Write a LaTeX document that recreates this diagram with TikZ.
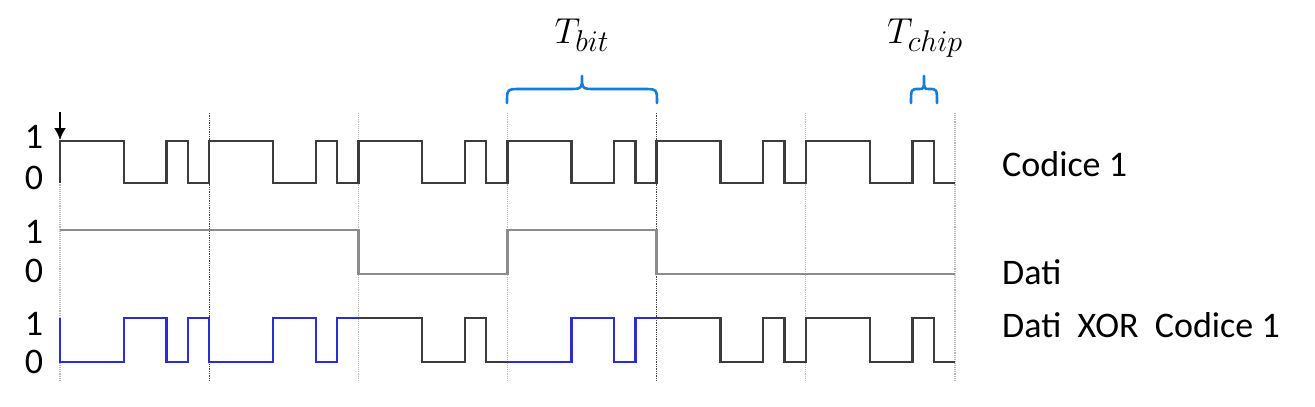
\documentclass[tikz,border=0pt]{standalone}
\usepackage{fontspec}
\setmainfont{Carlito}
\usetikzlibrary{arrows.meta}
\definecolor{sig}{RGB}{60,60,60}
\definecolor{dati}{RGB}{140,140,140}
\definecolor{xorblue}{RGB}{45,45,205}
\definecolor{bracecol}{RGB}{20,125,220}
\definecolor{gridlight}{RGB}{185,185,185}
\definecolor{griddark}{RGB}{70,70,70}
\tikzset{
  lbl/.style={inner sep=0pt, anchor=base, font=\fontsize{36}{40}\selectfont},
  rowlbl/.style={inner sep=0pt, anchor=base west, font=\fontsize{36}{40}\selectfont},
  mathlbl/.style={inner sep=0pt, anchor=base, font=\fontsize{24.88}{30}\selectfont, transform shape, scale=1.45},
  wave/.style={line width=2.4pt, line join=miter},
  gridl/.style={densely dotted, line width=1.1pt, gridlight},
  gridd/.style={densely dotted, line width=1.3pt, griddark},
  bracestyle/.style={line width=2.6pt, bracecol, line cap=round, line join=round},
}
\begin{document}
\begin{tikzpicture}[x=1pt,y=-1pt]
\useasboundingbox (0,0) rectangle (1315,407);
\begin{scope}[shift={(60,0)}, x=21.30952pt]
  \foreach \b/\st in {0/gridl,1/gridd,2/gridl,3/gridl,4/gridd,5/gridl,6/gridl}
    \draw[\st] ({7*\b},113) -- ({7*\b},380);
  \coordinate (arrtop) at (0,112);
  \coordinate (arrtip) at (0,140);
  \draw[line width=1.8pt, black, -{Latex[length=12pt,width=12pt]}] (arrtop) -- (arrtip);
  \draw[wave, sig] (0,183) foreach \b in {0,...,5}{
     -- ({7*\b},141) -- ({7*\b+3},141) -- ({7*\b+3},183) -- ({7*\b+5},183)
     -- ({7*\b+5},141) -- ({7*\b+6},141) -- ({7*\b+6},183) -- ({7*\b+7},183)};
  \draw[wave, dati] (0,230) -- (14,230) -- (14,274) -- (21,274) -- (21,230)
     -- (28,230) -- (28,274) -- (42,274);
  \draw[wave, xorblue] (0,318) foreach \b in {0,1}{
     -- ({7*\b},362) -- ({7*\b+3},362) -- ({7*\b+3},318) -- ({7*\b+5},318)
     -- ({7*\b+5},362) -- ({7*\b+6},362) -- ({7*\b+6},318) -- ({7*\b+7},318)};
  \draw[wave, sig] (14,318) -- (17,318) -- (17,362) -- (19,362) -- (19,318)
     -- (20,318) -- (20,362) -- (21,362);
  \draw[wave, xorblue] (21,362) -- (24,362) -- (24,318) -- (26,318) -- (26,362)
     -- (27,362) -- (27,318) -- (28,318);
  \draw[wave, sig] (28,318) foreach \b in {4,5}{
     -- ({7*\b},318) -- ({7*\b+3},318) -- ({7*\b+3},362) -- ({7*\b+5},362)
     -- ({7*\b+5},318) -- ({7*\b+6},318) -- ({7*\b+6},362) -- ({7*\b+7},362)};
\end{scope}
\node[lbl] (c1) at (34,148) {1};
\node[lbl] (c0) at (34,189) {0};
\node[lbl] (d1) at (34,243) {1};
\node[lbl] (d0) at (34,282) {0};
\node[lbl] (x1) at (34,335) {1};
\node[lbl] (x0) at (34,373) {0};
\node[rowlbl] (lc) at (1002,176) {Codice 1};
\node[rowlbl] (ld) at (1002,284) {Dati};
\node[rowlbl] (lx) at (1002,337) {Dati\ \ XOR\ \ Codice 1};
\node[mathlbl] (tbit) at (582,43) {$T_{bit}$};
\node[mathlbl] (tchip) at (925,43) {$T_{chip}$};
\draw[bracestyle]
  (507,103) .. controls (507,89) .. (521,89) -- (568,89)
  .. controls (582,89) .. (582,76) .. controls (582,89) .. (596,89)
  -- (643,89) .. controls (657,89) .. (657,103);
\draw[bracestyle]
  (911,103) .. controls (911,89) .. (919,89)
  .. controls (924,89) .. (924,76) .. controls (924,89) .. (929,89)
  .. controls (937,89) .. (937,103);
\end{tikzpicture}
\end{document}
